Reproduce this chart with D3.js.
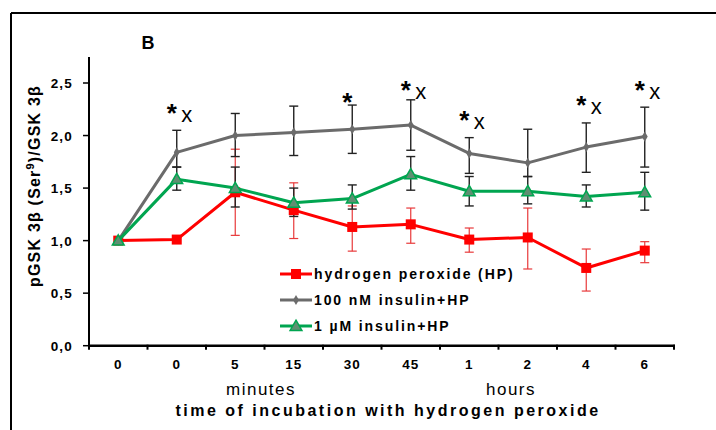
<!DOCTYPE html>
<html>
<head>
<meta charset="utf-8">
<script src="https://cdn.jsdelivr.net/npm/d3@7"></script>
<style>
  body { margin: 0; background: #fff; }
  svg { display: block; font-family: "Liberation Sans", Arial, sans-serif; }
</style>
</head>
<body>
<svg width="716" height="430"></svg>
<script>
// categories (time points)
const timeLabels = ["0", "0", "5", "15", "30", "45", "1", "2", "4", "6"];

// hydrogen peroxide (HP)
const hpMean = [1.00, 1.01, 1.46, 1.29, 1.13, 1.155, 1.01, 1.03, 0.74, 0.905];
const hpHi   = [null, null, 1.87, 1.55, 1.33, 1.31, 1.12, 1.31, 0.92, 0.99];
const hpLo   = [null, null, 1.05, 1.02, 0.90, 0.975, 0.89, 0.73, 0.52, 0.79];

// 100 nM insulin + HP
const ins100Mean = [1.00, 1.84, 2.00, 2.03, 2.06, 2.10, 1.83, 1.74, 1.89, 1.99];
const ins100Hi   = [null, 2.05, 2.21, 2.28, 2.29, 2.34, 1.98, 2.06, 2.12, 2.27];
const ins100Lo   = [null, 1.70, 1.80, 1.81, 1.83, 1.86, 1.64, 1.61, 1.65, 1.70];

// 1 µM insulin + HP
const ins1Mean = [1.00, 1.585, 1.50, 1.36, 1.40, 1.63, 1.47, 1.47, 1.42, 1.46];
const ins1Hi   = [null, 1.70, 1.70, 1.50, 1.53, 1.80, 1.61, 1.61, 1.53, 1.65];
const ins1Lo   = [null, 1.48, 1.32, 1.23, 1.30, 1.48, 1.33, 1.35, 1.32, 1.29];

// significance marks
const markCats  = [1, 4, 5, 6, 8, 9];
const markX     = [true, false, true, true, true, true];
const markLevel = [2.26, 2.37, 2.48, 2.20, 2.34, 2.48];

const yTicks = [0, 0.5, 1, 1.5, 2, 2.5];

const svg = d3.select("svg");
const fmt = d => d3.format(".1f")(d).replace(".", ",");

const x = d3.scaleBand().domain(d3.range(timeLabels.length)).range([89, 674]);
const cx = i => x(i) + x.bandwidth() / 2;
const y = d3.scaleLinear().domain([0, 2.5]).range([345.7, 83]);

// frame (top + left only)
svg.append("line").attr("x1", 11).attr("x2", 716).attr("y1", 13).attr("y2", 13)
  .attr("stroke", "#000").attr("stroke-width", 2);
svg.append("line").attr("x1", 11).attr("x2", 11).attr("y1", 13).attr("y2", 430)
  .attr("stroke", "#000").attr("stroke-width", 2);

svg.append("text").attr("x", 148).attr("y", 48.5).attr("text-anchor", "middle")
  .attr("font-size", 18).attr("font-weight", "bold").text("B");

// y axis
const yAxis = svg.append("g");
yAxis.append("line").attr("x1", 89).attr("x2", 89).attr("y1", 57).attr("y2", y(0))
  .attr("stroke", "#000").attr("stroke-width", 2);
yAxis.selectAll("line.tick").data(yTicks).join("line").attr("class", "tick")
  .attr("x1", 83).attr("x2", 89).attr("y1", d => y(d)).attr("y2", d => y(d))
  .attr("stroke", "#000").attr("stroke-width", 1.5);
yAxis.selectAll("text").data(yTicks).join("text")
  .attr("x", 73).attr("y", d => y(d) + 5).attr("text-anchor", "end")
  .attr("font-size", 13.5).attr("font-weight", "bold").attr("letter-spacing", 1.2)
  .text(fmt);

// x axis
const xAxis = svg.append("g");
xAxis.append("line").attr("x1", 88).attr("x2", 675).attr("y1", y(0)).attr("y2", y(0))
  .attr("stroke", "#000").attr("stroke-width", 2.5);
const edges = d3.range(timeLabels.length + 1).map(i => i < timeLabels.length ? x(i) : x.range()[1]);
xAxis.selectAll("line.tick").data(edges).join("line").attr("class", "tick")
  .attr("x1", d => d).attr("x2", d => d).attr("y1", y(0) - 1).attr("y2", y(0) + 4)
  .attr("stroke", "#000").attr("stroke-width", 2);
xAxis.selectAll("text").data(timeLabels).join("text")
  .attr("x", (d, i) => cx(i)).attr("y", 369).attr("text-anchor", "middle")
  .attr("font-size", 13.5).attr("font-weight", "bold").attr("letter-spacing", 1)
  .text(d => d);

svg.append("text").attr("x", 261).attr("y", 395).attr("text-anchor", "middle")
  .attr("font-size", 17).attr("letter-spacing", 1.5).text("minutes");
svg.append("text").attr("x", 511).attr("y", 395).attr("text-anchor", "middle")
  .attr("font-size", 17).attr("letter-spacing", 1.5).text("hours");
svg.append("text").attr("x", 388).attr("y", 416).attr("text-anchor", "middle")
  .attr("font-size", 16).attr("font-weight", "bold").attr("letter-spacing", 2.5)
  .text("time of incubation  with hydrogen peroxide");

// y label
const yl = svg.append("text").attr("transform", "translate(40,186) rotate(-90)")
  .attr("text-anchor", "middle").attr("font-size", 16).attr("font-weight", "bold")
  .attr("letter-spacing", 1.2);
yl.append("tspan").text("pGSK 3β (Ser");
yl.append("tspan").attr("font-size", 11).attr("dy", -6).text("9");
yl.append("tspan").attr("dy", 6).text(")/GSK 3β");

const series = [
  { name: "hydrogen peroxide (HP)", mean: hpMean, hi: hpHi, lo: hpLo,
    color: "#ff0000", err: "#e8393a", marker: "square" },
  { name: "100 nM insulin+HP", mean: ins100Mean, hi: ins100Hi, lo: ins100Lo,
    color: "#6b6b6b", err: "#222", marker: "diamond" },
  { name: "1 µM insulin+HP", mean: ins1Mean, hi: ins1Hi, lo: ins1Lo,
    color: "#00a550", err: "#222", marker: "triangle" }
];

function drawMarker(g, type, px, py, s) {
  if (type === "square") {
    g.append("rect").attr("x", px - 5).attr("y", py - 5).attr("width", 10).attr("height", 10)
      .attr("fill", s.color);
  } else if (type === "diamond") {
    g.append("path").attr("d", d3.symbol(d3.symbolDiamond, 30)())
      .attr("transform", `translate(${px},${py})`).attr("fill", s.color);
  } else {
    g.append("path").attr("d", d3.symbol(d3.symbolTriangle, 60)())
      .attr("transform", `translate(${px},${py + 1})`)
      .attr("fill", "#5f8f72").attr("stroke", s.color).attr("stroke-width", 1.5);
  }
}

// error bars
series.forEach(s => {
  const g = svg.append("g");
  s.mean.forEach((m, i) => {
    if (s.hi[i] == null) return;
    const w = s.marker === "square" ? 1.2 : 1.4;
    g.append("line").attr("x1", cx(i)).attr("x2", cx(i)).attr("y1", y(s.hi[i])).attr("y2", y(s.lo[i]))
      .attr("stroke", s.err).attr("stroke-width", w);
    [s.hi[i], s.lo[i]].forEach(v => {
      g.append("line").attr("x1", cx(i) - 4.5).attr("x2", cx(i) + 4.5).attr("y1", y(v)).attr("y2", y(v))
        .attr("stroke", s.err).attr("stroke-width", w);
    });
  });
});

// lines + markers
const line = d3.line().x((d, i) => cx(i)).y(d => y(d));
series.forEach(s => {
  const g = svg.append("g");
  g.append("path").attr("d", line(s.mean)).attr("fill", "none")
    .attr("stroke", s.color).attr("stroke-width", 3).attr("stroke-linejoin", "round");
  s.mean.forEach((m, i) => drawMarker(g, s.marker, cx(i), y(m), s));
});

// significance marks
markCats.forEach((c, k) => {
  const sy = y(markLevel[k]);
  svg.append("text").attr("x", cx(c) - 5).attr("y", sy + 14).attr("text-anchor", "middle")
    .attr("font-size", 26).attr("font-weight", "bold").text("*");
  if (markX[k]) {
    svg.append("text").attr("x", cx(c) + 10).attr("y", sy + 14).attr("text-anchor", "middle")
      .attr("font-size", 22).text("x");
  }
});

// legend
const legY = [274, 300, 326];
series.forEach((s, k) => {
  const g = svg.append("g");
  g.append("line").attr("x1", 280).attr("x2", 312).attr("y1", legY[k]).attr("y2", legY[k])
    .attr("stroke", s.color).attr("stroke-width", 3);
  drawMarker(g, s.marker, 296, legY[k], s);
  g.append("text").attr("x", 314).attr("y", legY[k] + 5).attr("font-size", 14)
    .attr("font-weight", "bold").attr("letter-spacing", 1.9).text(s.name);
});
</script>
</body>
</html>
